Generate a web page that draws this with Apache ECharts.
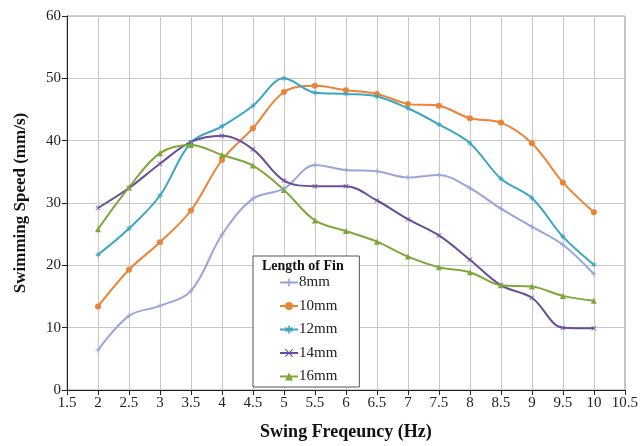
<!DOCTYPE html>
<html>
<head>
<meta charset="utf-8">
<script src="https://cdn.jsdelivr.net/npm/echarts@6/dist/echarts.min.js"></script>
<style>
  html, body { margin: 0; padding: 0; background: #fff; }
  #chart { width: 641px; height: 446px; }
</style>
</head>
<body>
<div id="chart"></div>
<script>
// swing frequency (Hz)
var freq = [2, 2.5, 3, 3.5, 4, 4.5, 5, 5.5, 6, 6.5, 7, 7.5, 8, 8.5, 9, 9.5, 10];
// swimming speed (mm/s) per fin length
var fin8  = [6.4, 11.9, 13.5, 15.9, 24.9, 30.7, 32.3, 36.1, 35.3, 35.1, 34.1, 34.5, 32.4, 29.1, 26.2, 23.3, 18.6];
var fin10 = [13.4, 19.3, 23.7, 28.8, 36.9, 42.0, 47.8, 48.8, 48.1, 47.5, 45.9, 45.6, 43.6, 42.9, 39.6, 33.3, 28.5];
var fin12 = [21.7, 25.9, 31.2, 39.7, 42.3, 45.6, 50.0, 47.7, 47.5, 47.1, 45.2, 42.6, 39.6, 33.9, 30.8, 24.6, 20.1];
var fin14 = [29.2, 32.4, 36.3, 39.8, 40.8, 38.6, 33.6, 32.7, 32.7, 30.4, 27.4, 24.8, 20.9, 16.8, 14.8, 10.0, 9.9];
var fin16 = [25.8, 32.5, 38.0, 39.3, 37.7, 36.0, 32.1, 27.2, 25.5, 23.8, 21.4, 19.7, 18.9, 16.8, 16.6, 15.1, 14.3];
var names = ["8mm", "10mm", "12mm", "14mm", "16mm"];

var plusPath = "path://M4,0H6V4H10V6H6V10H4V6H0V4H4Z";
var crossPath = "path://M1,0L5,4L9,0L10,1L6,5L10,9L9,10L5,6L1,10L0,9L4,5L0,1Z";
var starPath = "path://M4,0H6V3.5L9,1.8L10,3.5L7,5L10,6.5L9,8.2L6,6.5V10H4V6.5L1,8.2L0,6.5L3,5L0,3.5L1,1.8L4,3.5Z";

function pairs(ys) {
  var out = [];
  for (var i = 0; i < freq.length; i++) out.push([freq[i], ys[i]]);
  return out;
}

function line(name, ys, color, symbol, size) {
  return {
    name: name,
    type: "line",
    smooth: 0.35,
    data: pairs(ys),
    symbol: symbol,
    symbolSize: size,
    lineStyle: { color: color, width: 2 },
    itemStyle: { color: color },
    emphasis: { disabled: true }
  };
}

var font = "'Liberation Serif', 'Times New Roman', serif";
var chart = echarts.init(document.getElementById("chart"));
chart.setOption({
  animation: false,
  grid: { left: 67, right: 13, top: 16, bottom: 53, show: true, borderColor: "#a0a0a0", borderWidth: 1 },
  xAxis: {
    type: "value",
    min: 1.5, max: 10.5, interval: 0.5,
    name: "Swing Freqeuncy (Hz)",
    nameLocation: "middle",
    nameGap: 33,
    nameTextStyle: { fontFamily: font, fontWeight: "bold", fontSize: 18, color: "#111" },
    axisLine: { lineStyle: { color: "#222", width: 1 } },
    axisTick: { show: true, length: 5, lineStyle: { color: "#222" } },
    axisLabel: { fontFamily: font, fontSize: 15, color: "#222", margin: 6 },
    splitLine: { show: true, lineStyle: { color: "#c8c8c8", width: 1 } }
  },
  yAxis: {
    type: "value",
    min: 0, max: 60, interval: 10,
    name: "Swimming Speed (mm/s)",
    nameLocation: "middle",
    nameGap: 38,
    nameTextStyle: { fontFamily: font, fontWeight: "bold", fontSize: 17, color: "#111" },
    axisLine: { show: true, lineStyle: { color: "#222", width: 1 } },
    axisTick: { show: true, length: 5, lineStyle: { color: "#222" } },
    axisLabel: { fontFamily: font, fontSize: 15, color: "#222", margin: 6 },
    splitLine: { show: true, lineStyle: { color: "#c8c8c8", width: 1 } }
  },
  legend: {
    data: names,
    orient: "vertical",
    left: 253, top: 256,
    width: 105,
    padding: [19, 22, 3, 26],
    itemGap: 8.5,
    itemWidth: 18, itemHeight: 10,
    backgroundColor: "#fff",
    borderColor: "#555", borderWidth: 1,
    textStyle: { fontFamily: font, fontSize: 15, color: "#222", padding: [0, 0, 0, -4] }
  },
  graphic: [{
    type: "text",
    left: 262, top: 259,
    z: 100,
    style: { text: "Length of Fin", font: "bold 14px " + font, fill: "#111" }
  }],
  series: [
    line(names[0], fin8, "#9aa6d9", plusPath, 5),
    line(names[1], fin10, "#ea8438", "circle", 6),
    line(names[2], fin12, "#3aa6c2", starPath, 5),
    line(names[3], fin14, "#6a4d98", crossPath, 5),
    line(names[4], fin16, "#7ea83c", "triangle", 6)
  ]
});
</script>
</body>
</html>
